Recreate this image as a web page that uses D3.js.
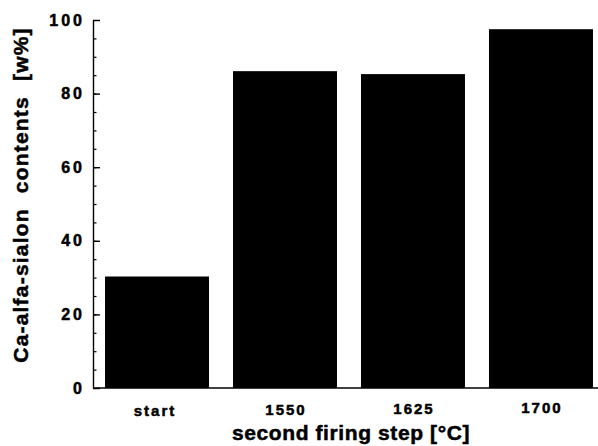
<!DOCTYPE html>
<html>
<head>
<meta charset="utf-8">
<script src="https://cdn.jsdelivr.net/npm/d3@7"></script>
<style>
  body { margin: 0; background: #fff; }
  text { font-family: "Liberation Sans", Arial, sans-serif; font-weight: bold; fill: #000;
         stroke: #000; stroke-width: 0.5px; }
</style>
</head>
<body>
<div id="chart"></div>
<script>
// data
const categories = ['start', '1550', '1625', '1700'];
const contents = [30.3, 86.1, 85.3, 97.5];
const yTicks = [0, 20, 40, 60, 80, 100];
const yMinorTicks = d3.range(0, 101, 5);

const width = 598, height = 446;
const plotLeft = 93, plotTop = 20, plotBottom = 388;

let svg = d3.select('#chart')
  .append('svg')
  .attr('width', width)
  .attr('height', height);

let xScale = d3.scaleBand()
  .domain(categories)
  .range([plotLeft, plotLeft + 512])
  .paddingInner(0.1875)
  .paddingOuter(0.094);

let yScale = d3.scaleLinear()
  .domain([0, 100])
  .range([plotBottom, plotTop]);

// bars
svg.append('g')
  .selectAll('rect')
  .data(categories)
  .join('rect')
  .attr('x', d => xScale(d))
  .attr('width', xScale.bandwidth())
  .attr('y', (d, i) => yScale(contents[i]))
  .attr('height', (d, i) => plotBottom - yScale(contents[i]))
  .attr('fill', '#000');

// minor ticks, pointing inside
svg.append('g')
  .attr('transform', `translate(${plotLeft},0)`)
  .call(d3.axisLeft(yScale).tickValues(yMinorTicks).tickSize(-3.5).tickFormat(''))
  .call(g => g.select('.domain').remove())
  .selectAll('line').attr('stroke', '#000').attr('stroke-width', 1.2);

// major y axis
svg.append('g')
  .attr('transform', `translate(${plotLeft},0)`)
  .call(d3.axisLeft(yScale).tickValues(yTicks).tickSize(-7).tickSizeOuter(0))
  .call(g => g.select('.domain').attr('stroke', '#000').attr('stroke-width', 1.4))
  .call(g => g.selectAll('.tick line').attr('stroke', '#000').attr('stroke-width', 1.4))
  .call(g => g.selectAll('.tick text')
    .attr('x', -8)
    .attr('fill', '#000')
    .style('font-size', '16px')
    .style('letter-spacing', '3px')
    .style('font-family', '"Liberation Sans", Arial, sans-serif'));

// x baseline
svg.append('line')
  .attr('x1', plotLeft).attr('x2', width)
  .attr('y1', plotBottom).attr('y2', plotBottom)
  .attr('stroke', '#000').attr('stroke-width', 1.6);

// x labels
svg.append('g')
  .selectAll('text')
  .data(categories)
  .join('text')
  .attr('x', d => xScale(d) + xScale.bandwidth() / 2 - (d === 'start' ? 3 : 0) + 1)
  .attr('y', (d, i) => 416 - i * 1)
  .attr('text-anchor', 'middle')
  .style('font-size', '15px')
  .style('letter-spacing', '2px')
  .text(d => d);

// axis titles
svg.append('text')
  .attr('x', 351)
  .attr('y', 440)
  .attr('text-anchor', 'middle')
  .style('font-size', '21px')
  .style('letter-spacing', '0.6px')
  .text('second firing step [°C]');

svg.append('text')
  .attr('transform', 'translate(28,195) rotate(-90)')
  .attr('text-anchor', 'middle')
  .style('font-size', '21px')
  .style('letter-spacing', '1.2px')
  .style('word-spacing', '8px')
  .text('Ca-alfa-sialon contents [w%]');
</script>
</body>
</html>
